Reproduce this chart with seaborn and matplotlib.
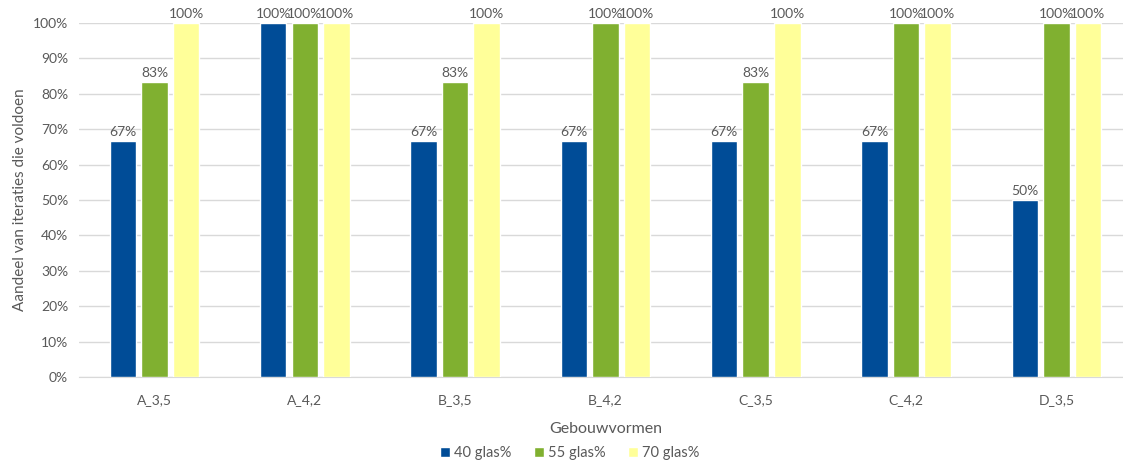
import matplotlib
matplotlib.use("Agg")
import matplotlib.pyplot as plt
import pandas as pd
import seaborn as sns
from matplotlib.ticker import PercentFormatter

# data (% of iterations that comply)
vormen = ["A_3,5", "A_4,2", "B_3,5", "B_4,2", "C_3,5", "C_4,2", "D_3,5"]
glas_40 = [66.7, 100, 66.7, 66.7, 66.7, 66.7, 50]
glas_55 = [83.3, 100, 83.3, 100, 83.3, 100, 100]
glas_70 = [100, 100, 100, 100, 100, 100, 100]
series = ["40 glas%", "55 glas%", "70 glas%"]
colors = ["#004C97", "#80B030", "#FFFF99"]

df = pd.DataFrame({
    "Gebouwvorm": vormen * 3,
    "Glas": [s for s in series for _ in vormen],
    "Aandeel": glas_40 + glas_55 + glas_70,
})

sns.set_style("white")
plt.rcParams["font.family"] = ["Lato", "DejaVu Sans"]
grey = "#595959"

fig = plt.figure(figsize=(11.23, 4.61), dpi=100)
# plot area runs a little past the right edge, as in the reference
ax = fig.add_axes([0.0706, 0.182, 0.937, 0.768])

sns.barplot(data=df, x="Gebouwvorm", y="Aandeel", hue="Glas",
            palette=colors, saturation=1, width=0.63, gap=0.16, ax=ax,
            zorder=3, legend=True)

for cont in ax.containers:
    ax.bar_label(cont, labels=[f"{v:.0f}%" for v in cont.datavalues],
                 padding=2, fontsize=10, color=grey)

ax.set_ylim(0, 100)
ax.set_yticks(range(0, 101, 10))
ax.yaxis.set_major_formatter(PercentFormatter(decimals=0))
ax.set_xlim(-0.5, len(vormen) - 0.5)
ax.grid(axis="y", color="#D9D9D9", linewidth=1, zorder=0)
ax.set_axisbelow(True)
for side in ["top", "right", "left"]:
    ax.spines[side].set_visible(False)
ax.spines["bottom"].set_color("#D9D9D9")
ax.tick_params(axis="x", length=0, labelsize=10, colors=grey, pad=12)
ax.tick_params(axis="y", length=0, labelsize=10, colors=grey, pad=8)
ax.set_xlabel("Gebouwvormen", fontsize=11.5, color=grey, labelpad=12)
ax.set_ylabel("Aandeel van iteraties die voldoen", fontsize=11, color=grey)

handles, labels = ax.get_legend_handles_labels()
ax.legend(handles, labels, loc="center", bbox_to_anchor=(0.466, -0.215),
          ncol=3, frameon=False, fontsize=10.5, labelcolor=grey,
          handlelength=0.7, handleheight=0.7, handletextpad=0.3,
          columnspacing=1.5)

fig.savefig("out.png", dpi=100)
